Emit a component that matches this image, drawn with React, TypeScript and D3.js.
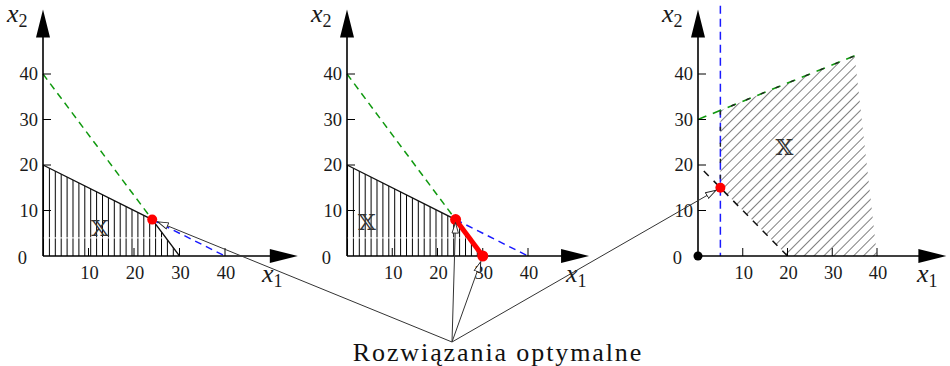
import React from "react";
import * as d3 from "d3";

type P = [number, number];

// ---- data ----
const xTicks = [10, 20, 30, 40];
const yTicks = [10, 20, 30, 40];
const tickLabels = ["10", "20", "30", "40"];

const leftRegion: P[] = [[0, 0], [0, 20], [24, 8], [30, 0]];
const leftBoundary: P[] = [[0, 20], [24, 8], [30, 0]];
const greenDashed: P[] = [[0, 40], [24, 8]];
const blueDashed: P[] = [[24, 8], [40, 0]];
const leftOptima: P[] = [[24, 8]];
const leftLabelPos: P = [12.5, 6.2];

const midRegion: P[] = [[0, 0], [0, 20], [24, 8], [30, 0]];
const midOptimalSegment: P[] = [[24, 8], [30, 0]];
const midOptima: P[] = [[24, 8], [30, 0]];
const midLabelPos: P = [4.4, 7.5];

const artifactLevel = 4;

const rightRegion: P[] = [[5, 15], [5, 32], [35, 44], [40, 0], [20, 0]];
const rightGreen: P[] = [[0, 30], [35, 44]];
const rightBlue: P[] = [[5, 55], [5, 0]];
const rightLowerDashed: P[] = [[1.3, 18.7], [20, 0]];
const rightEdgeDashed: P[] = [[5, 15], [5, 32], [35, 44]];
const rightOptima: P[] = [[5, 15]];
const rightLabelPos: P = [19.3, 24];

const annotationText = "Rozwiązania optymalne";
const annotationTargets: { panel: number; pt: P; gap: number }[] = [
  { panel: 0, pt: [24, 8], gap: 6 },
  { panel: 1, pt: [24, 8], gap: 3 },
  { panel: 1, pt: [30, 0], gap: 6 },
  { panel: 2, pt: [5, 15], gap: 5 },
];

// ---- layout ----
const panelsLayout = [
  { x0: 43, x40: 225, xTip: 56 },
  { x0: 347, x40: 528, xTip: 53.5 },
  { x0: 698, x40: 877, xTip: 55.5 },
];
const Y0 = 256;
const Y40 = 74;
const yTip = 54.2;

const GREEN = "#10990f";
const BLUE = "#1a1aff";
const RED = "#ff0000";
const SERIF = "Liberation Serif";

function scalesFor(i: number) {
  const l = panelsLayout[i];
  const x = d3.scaleLinear().domain([0, 40]).range([l.x0, l.x40]);
  const y = d3.scaleLinear().domain([0, 40]).range([Y0, Y40]);
  return { x, y };
}

function Axes({ i }: { i: number }) {
  const { x, y } = scalesFor(i);
  const l = panelsLayout[i];
  const ox = x(0), oy = y(0);
  const xt = x(l.xTip), yt = y(yTip);
  const aL = 28, aW = 7;
  return (
    <g>
      <line x1={ox} y1={oy} x2={xt - aL + 2} y2={oy} stroke="#000" strokeWidth={1.6} />
      <line x1={ox} y1={oy} x2={ox} y2={yt + aL - 2} stroke="#000" strokeWidth={1.6} />
      <path d={`M${xt},${oy} L${xt - aL},${oy - aW} L${xt - aL},${oy + aW} Z`} fill="#000" />
      <path d={`M${ox},${yt} L${ox - aW},${yt + aL} L${ox + aW},${yt + aL} Z`} fill="#000" />
      {xTicks.map((t) => (
        <line key={"xt" + t} x1={x(t)} x2={x(t)} y1={oy} y2={oy - 8} stroke="#000" strokeWidth={1} />
      ))}
      {yTicks.map((t) => (
        <line key={"yt" + t} x1={ox} x2={ox + 8} y1={y(t)} y2={y(t)} stroke="#000" strokeWidth={1} />
      ))}
      {xTicks.map((t, k) => (
        <text key={"xl" + t} x={x(t) + 1} y={oy + 23} fontSize={18.5} fontFamily={SERIF} textAnchor="middle" fill="#1a1a1a">
          {tickLabels[k]}
        </text>
      ))}
      {yTicks.map((t, k) => (
        <text key={"yl" + t} x={ox - 5} y={y(t) + 6} fontSize={18.5} fontFamily={SERIF} textAnchor="end" fill="#1a1a1a">
          {tickLabels[k]}
        </text>
      ))}
      <text x={ox - 16} y={oy + 8} fontSize={18.5} fontFamily={SERIF} textAnchor="end" fill="#1a1a1a">0</text>
      <text x={ox - 36} y={22} fontSize={26} fontFamily={SERIF} fontStyle="italic" fill="#1a1a1a">
        x<tspan fontStyle="normal" fontSize={18} dy={5}>2</tspan>
      </text>
      <text x={ox + 219} y={282} fontSize={26} fontFamily={SERIF} fontStyle="italic" fill="#1a1a1a">
        x<tspan fontStyle="normal" fontSize={18} dy={5}>1</tspan>
      </text>
    </g>
  );
}

function XLabel({ i, pos }: { i: number; pos: P }) {
  const { x, y } = scalesFor(i);
  return (
    <text x={x(pos[0])} y={y(pos[1]) + 8} fontSize={23} fontFamily="'DejaVu Serif', 'DejaVu Sans', serif" textAnchor="middle" fill="#333">
      𝕏
    </text>
  );
}

export default function App() {
  const sc = [0, 1, 2].map(scalesFor);
  const lineOf = (i: number) =>
    d3.line<P>().x((d) => sc[i].x(d[0])).y((d) => sc[i].y(d[1]));
  const src: P = [452, 342];

  return (
    <svg width={950} height={366} style={{ position: "absolute", left: 0, top: 0, background: "#fff" }}>
      <defs>
        <pattern id="vhatch0" width={5.9} height={10} patternUnits="userSpaceOnUse" patternTransform={`translate(${sc[0].x(0)},0)`}>
          <line x1={0.5} y1={0} x2={0.5} y2={10} stroke="#000" strokeWidth={1} />
        </pattern>
        <pattern id="vhatch1" width={5.9} height={10} patternUnits="userSpaceOnUse" patternTransform={`translate(${sc[1].x(0)},0)`}>
          <line x1={0.5} y1={0} x2={0.5} y2={10} stroke="#000" strokeWidth={1} />
        </pattern>
        <pattern id="dhatch" width={7} height={10} patternUnits="userSpaceOnUse" patternTransform="rotate(45)">
          <line x1={0} y1={0} x2={0} y2={10} stroke="#2a2a2a" strokeWidth={1.2} />
        </pattern>
        <clipPath id="clipL">
          <path d={lineOf(0)(leftRegion) + "Z"} />
        </clipPath>
        <clipPath id="clipM">
          <path d={lineOf(1)(midRegion) + "Z"} />
        </clipPath>
        <marker id="openArrow" viewBox="0 0 12 8" refX={11} refY={4} markerWidth={12} markerHeight={8} markerUnits="userSpaceOnUse" orient="auto">
          <path d="M0.5,0.8 L11,4 L0.5,7.2 Z" fill="#fff" stroke="#222" strokeWidth={0.9} />
        </marker>
      </defs>

      {/* ---------- left panel ---------- */}
      <path d={lineOf(0)(leftRegion) + "Z"} fill="url(#vhatch0)" />
      <line
        clipPath="url(#clipL)"
        x1={sc[0].x(0)} x2={sc[0].x(40)} y1={sc[0].y(artifactLevel)} y2={sc[0].y(artifactLevel)}
        stroke="#fff" strokeWidth={1.2} opacity={0.85}
      />
      <path d={lineOf(0)(greenDashed)!} fill="none" stroke={GREEN} strokeWidth={1.5} strokeDasharray="7 5" />
      <path d={lineOf(0)(blueDashed)!} fill="none" stroke={BLUE} strokeWidth={1.5} strokeDasharray="7 5" />
      <path d={lineOf(0)(leftBoundary)!} fill="none" stroke="#111" strokeWidth={1.3} />
      <Axes i={0} />
      <XLabel i={0} pos={leftLabelPos} />
      {leftOptima.map((p, k) => (
        <circle key={k} cx={sc[0].x(p[0])} cy={sc[0].y(p[1])} r={5} fill={RED} />
      ))}

      {/* ---------- middle panel ---------- */}
      <path d={lineOf(1)(midRegion) + "Z"} fill="url(#vhatch1)" />
      <line
        clipPath="url(#clipM)"
        x1={sc[1].x(0)} x2={sc[1].x(40)} y1={sc[1].y(artifactLevel)} y2={sc[1].y(artifactLevel)}
        stroke="#fff" strokeWidth={1.2} opacity={0.85}
      />
      <path d={lineOf(1)(greenDashed)!} fill="none" stroke={GREEN} strokeWidth={1.5} strokeDasharray="7 5" />
      <path d={lineOf(1)(blueDashed)!} fill="none" stroke={BLUE} strokeWidth={1.5} strokeDasharray="7 5" />
      <path d={lineOf(1)(leftBoundary)!} fill="none" stroke="#111" strokeWidth={1.3} />
      <Axes i={1} />
      <XLabel i={1} pos={midLabelPos} />
      <path d={lineOf(1)(midOptimalSegment)!} fill="none" stroke={RED} strokeWidth={5} />
      {midOptima.map((p, k) => (
        <circle key={k} cx={sc[1].x(p[0])} cy={sc[1].y(p[1])} r={5.5} fill={RED} />
      ))}

      {/* ---------- right panel ---------- */}
      <path d={lineOf(2)(rightRegion) + "Z"} fill="url(#dhatch)" />
      <path d={lineOf(2)(rightBlue)!} fill="none" stroke={BLUE} strokeWidth={1.5} strokeDasharray="8 5" />
      <path d={lineOf(2)(rightGreen)!} fill="none" stroke={GREEN} strokeWidth={1.6} strokeDasharray="9 7" />
      <path d={lineOf(2)(rightEdgeDashed)!} fill="none" stroke="#222" strokeWidth={1.4} strokeDasharray="4 12" strokeDashoffset={-9} />
      <path d={lineOf(2)(rightLowerDashed)!} fill="none" stroke="#111" strokeWidth={1.5} strokeDasharray="7 7" />
      <Axes i={2} />
      <XLabel i={2} pos={rightLabelPos} />
      <circle cx={sc[2].x(0)} cy={sc[2].y(0)} r={4.5} fill="#000" />
      {rightOptima.map((p, k) => (
        <circle key={k} cx={sc[2].x(p[0])} cy={sc[2].y(p[1])} r={5} fill={RED} />
      ))}

      {/* ---------- annotation ---------- */}
      {annotationTargets.map((a, k) => {
        const tx = sc[a.panel].x(a.pt[0]);
        const ty = sc[a.panel].y(a.pt[1]);
        const dx = tx - src[0], dy = ty - src[1];
        const len = Math.hypot(dx, dy);
        const ex = tx - (dx / len) * a.gap;
        const ey = ty - (dy / len) * a.gap;
        return (
          <line key={k} x1={src[0]} y1={src[1]} x2={ex} y2={ey} stroke="#333" strokeWidth={1} markerEnd="url(#openArrow)" />
        );
      })}
      <text x={498} y={361} fontSize={26} fontFamily={SERIF} textAnchor="middle" letterSpacing={1.9} fill="#111">
        {annotationText}
      </text>
    </svg>
  );
}
